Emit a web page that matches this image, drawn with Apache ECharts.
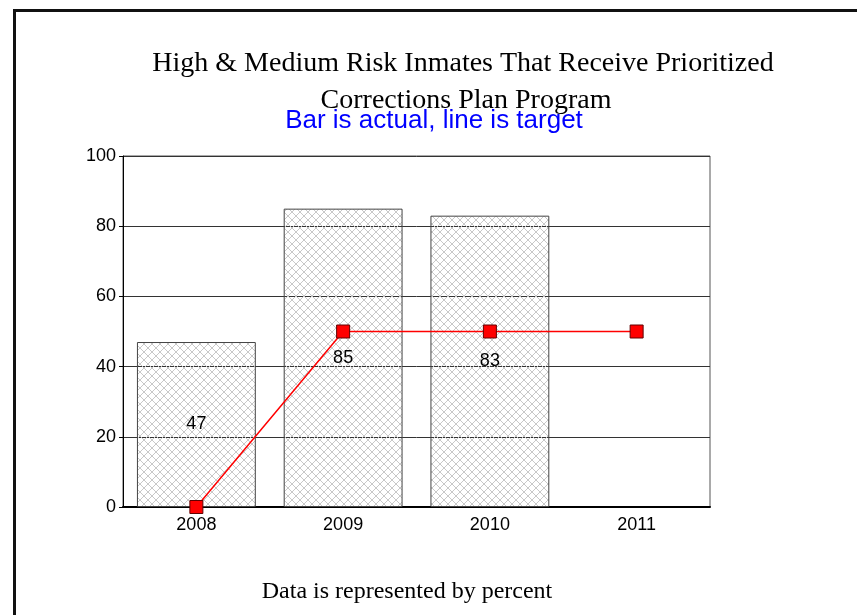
<!DOCTYPE html>
<html>
<head>
<meta charset="utf-8">
<script src="https://cdn.jsdelivr.net/npm/echarts@6/dist/echarts.min.js"></script>
<style>
  html, body { margin: 0; padding: 0; background: #fff; }
  #chart { width: 857px; height: 615px; }
</style>
</head>
<body>
<div id="chart"></div>
<script>
// Years on the category axis
const years = ['2008', '2009', '2010', '2011'];
// Actual percentage (bars); no figure yet for 2011
const actual = [47, 85, 83, null];
// Target percentage (line)
const target = [0, 50, 50, 50];
// Value axis ticks
const yTicks = [0, 20, 40, 60, 80, 100];

// Light grey cross-hatch tile, one-pixel diagonals, transparent between them
function makeHatch() {
  const n = 8;
  const c = document.createElement('canvas');
  c.width = n; c.height = n;
  const g = c.getContext('2d');
  g.fillStyle = '#c8c8c8';
  for (let i = 0; i < n; i++) {
    g.fillRect(i, i, 1, 1);
    g.fillRect(n - 1 - i, i, 1, 1);
  }
  return c;
}

const chart = echarts.init(document.getElementById('chart'), null, { renderer: 'canvas' });

chart.setOption({
  backgroundColor: '#ffffff',
  animation: false,
  grid: {
    left: 123, right: 147, top: 156, bottom: 108,
    show: true, borderColor: '#555', borderWidth: 1, backgroundColor: 'transparent'
  },
  xAxis: {
    type: 'category',
    data: years,
    axisLine: { show: true, lineStyle: { color: '#000', width: 2 } },
    axisTick: { show: false },
    axisLabel: { color: '#000', fontFamily: 'Liberation Sans, Arial', fontSize: 18, margin: 9 },
    splitLine: { show: false }
  },
  yAxis: {
    type: 'value',
    min: yTicks[0],
    max: yTicks[yTicks.length - 1],
    interval: yTicks[1] - yTicks[0],
    axisLine: { show: true, lineStyle: { color: '#000', width: 1 } },
    axisTick: { show: true, length: 4, lineStyle: { color: '#000' } },
    axisLabel: { color: '#000', fontFamily: 'Liberation Sans, Arial', fontSize: 18, margin: 7 },
    splitLine: { show: true, lineStyle: { color: '#333', width: 1 } }
  },
  graphic: [
    // page frame
    { type: 'rect', shape: { x: 13, y: 9, width: 3, height: 620 }, style: { fill: '#111' }, silent: true },
    { type: 'rect', shape: { x: 13, y: 9, width: 860, height: 3 }, style: { fill: '#111' }, silent: true },
    { type: 'text', x: 463, y: 64, style: {
        text: 'High & Medium Risk Inmates That Receive Prioritized',
        font: '28px "Liberation Serif", "Times New Roman", serif', fill: '#000',
        textAlign: 'center', textVerticalAlign: 'middle' } },
    { type: 'text', x: 466, y: 101, style: {
        text: 'Corrections Plan Program',
        font: '28px "Liberation Serif", "Times New Roman", serif', fill: '#000',
        textAlign: 'center', textVerticalAlign: 'middle' } },
    { type: 'text', x: 434, y: 121, z: 10, style: {
        text: 'Bar is actual, line is target',
        font: '26px "Liberation Sans", Arial, sans-serif', fill: '#0000ff',
        textAlign: 'center', textVerticalAlign: 'middle' } },
    { type: 'text', x: 407, y: 592, style: {
        text: 'Data is represented by percent',
        font: '24px "Liberation Serif", "Times New Roman", serif', fill: '#000',
        textAlign: 'center', textVerticalAlign: 'middle' } }
  ],
  series: [
    {
      name: 'Actual',
      type: 'bar',
      data: actual,
      barWidth: '81%',
      z: 2,
      itemStyle: {
        color: { image: makeHatch(), repeat: 'repeat' },
        borderColor: '#444',
        borderWidth: 1
      },
      label: {
        show: true,
        position: 'inside',
        color: '#000',
        fontFamily: 'Liberation Sans, Arial',
        fontSize: 18
      }
    },
    {
      name: 'Target',
      type: 'line',
      data: target,
      z: 5,
      symbol: 'rect',
      symbolSize: 13,
      lineStyle: { color: '#ff0000', width: 1.5 },
      itemStyle: { color: '#ff0000', borderColor: '#600000', borderWidth: 1 }
    }
  ]
});
</script>
</body>
</html>
